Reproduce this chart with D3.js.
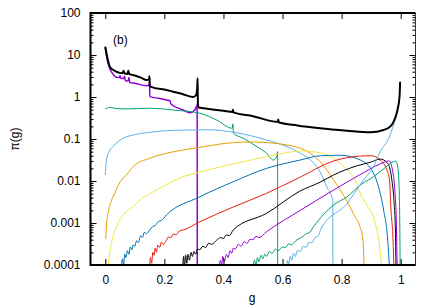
<!DOCTYPE html>
<html>
<head>
<meta charset="utf-8">
<script src="https://cdn.jsdelivr.net/npm/d3@7"></script>
<style>
  body { margin: 0; background: #fff; }
  svg { display: block; font-family: "Liberation Sans", Arial, sans-serif; }
</style>
</head>
<body>
<div id="chart"></div>
<script>
// π(g) eğrileri, log y ekseni
const X_TICKS = [0, 0.2, 0.4, 0.6, 0.8, 1];
const X_LABELS = ["0", "0.2", "0.4", "0.6", "0.8", "1"];
const Y_TICKS = [1e-4, 1e-3, 1e-2, 1e-1, 1, 10, 100];
const Y_LABELS = ["0.0001", "0.001", "0.01", "0.1", "1", "10", "100"];

// [g, π] pairs
const purple1 = [[0,14.7],[0.008,7],[0.015,4.8],[0.025,3.6],[0.038,2.94],[0.048,2.9],[0.05,3.2],[0.053,2.8],[0.062,2.75],[0.065,3.1],[0.068,2.5],[0.077,2.4],[0.08,2.9],[0.083,2.2],[0.1,2.12],[0.14,1.86],[0.148,1.9],[0.1495,2.3],[0.151,1.02],[0.18,0.93],[0.207,0.85],[0.219,0.82],[0.222,0.68],[0.264,0.49],[0.286,0.42],[0.303,0.49],[0.309,0.6],[0.311,0.65],[0.3115,0.00005]];
const green1 = [[0,0.52],[0.008,0.55],[0.015,0.57],[0.03,0.54],[0.07,0.52],[0.15,0.54],[0.23,0.49],[0.32,0.41],[0.377,0.283],[0.43,0.18],[0.432,0.23],[0.434,0.137],[0.467,0.104],[0.513,0.066],[0.546,0.046],[0.569,0.0316],[0.58,0.038],[0.583,0.05],[0.5835,0.00005]];
const lightblue1 = [[0,0.0139],[0.004,0.0316],[0.012,0.048],[0.026,0.066],[0.06,0.104],[0.094,0.124],[0.15,0.144],[0.207,0.158],[0.26,0.163],[0.35,0.166],[0.433,0.145],[0.546,0.095],[0.614,0.066],[0.66,0.046],[0.703,0.028],[0.727,0.0164],[0.75,0.0072],[0.77,0.0035],[0.7705,0.00005]];
const orange1 = [[0.0015,0.00041],[0.004,0.0009],[0.0095,0.0017],[0.02,0.0033],[0.032,0.0051],[0.05,0.0095],[0.072,0.014],[0.094,0.0219],[0.15,0.0347],[0.207,0.0457],[0.264,0.0548],[0.32,0.0634],[0.43,0.0817],[0.5,0.085],[0.55,0.0817],[0.66,0.06],[0.729,0.028],[0.773,0.0106],[0.818,0.0033],[0.842,0.00155],[0.86,0.00089],[0.872,0.0004],[0.877,0.00005]];
const yellow1 = [[0.009,0.00008],[0.012,0.00013],[0.021,0.00033],[0.04,0.00086],[0.07,0.00183],[0.094,0.0024],[0.117,0.0035],[0.15,0.0049],[0.18,0.0065],[0.264,0.0127],[0.32,0.0164],[0.433,0.0254],[0.546,0.038],[0.62,0.048],[0.66,0.052],[0.729,0.047],[0.773,0.0347],[0.818,0.0183],[0.851,0.0088],[0.863,0.0051],[0.885,0.0027],[0.914,0.00098],[0.93,0.00023],[0.936,0.00008]];
const blue1 = [[0.054,0.00008],[0.058,0.00014],[0.062,0.0001],[0.066,0.00018],[0.07,0.00015],[0.075,0.00022],[0.08,0.00018],[0.085,0.00027],[0.09,0.00023],[0.094,0.0003],[0.1,0.00028],[0.106,0.00038],[0.112,0.00034],[0.12,0.0005],[0.126,0.00045],[0.132,0.0006],[0.14,0.00056],[0.15,0.00068],[0.16,0.00082],[0.17,0.00088],[0.18,0.0011],[0.19,0.00115],[0.207,0.00155],[0.32,0.0042],[0.433,0.0096],[0.546,0.02],[0.66,0.0316],[0.729,0.04],[0.795,0.041],[0.863,0.0316],[0.908,0.0152],[0.925,0.0072],[0.942,0.00204],[0.956,0.00039],[0.962,0.00008]];
const red1 = [[0.15,0.00008],[0.153,0.00015],[0.157,0.00011],[0.161,0.0002],[0.165,0.00017],[0.168,0.00025],[0.173,0.0002],[0.178,0.0003],[0.184,0.00026],[0.19,0.00035],[0.196,0.00031],[0.207,0.00039],[0.215,0.00047],[0.222,0.00044],[0.23,0.00055],[0.24,0.00052],[0.25,0.00064],[0.264,0.00068],[0.32,0.00107],[0.433,0.0024],[0.546,0.0051],[0.66,0.0124],[0.773,0.03],[0.86,0.039],[0.9,0.04],[0.93,0.0316],[0.953,0.0183],[0.962,0.0107],[0.967,0.002],[0.974,0.00039],[0.977,0.00008]];
const black1 = [[0.262,0.00008],[0.265,0.00016],[0.268,0.00009],[0.272,0.00017],[0.276,0.00011],[0.28,0.00018],[0.285,0.00013],[0.29,0.0002],[0.295,0.00016],[0.3,0.00021],[0.306,0.00018],[0.312,0.00024],[0.32,0.00023],[0.33,0.00028],[0.34,0.00026],[0.35,0.00033],[0.36,0.00031],[0.377,0.00039],[0.39,0.00045],[0.4,0.00043],[0.41,0.00052],[0.42,0.0005],[0.433,0.00068],[0.546,0.0017],[0.66,0.0058],[0.729,0.0095],[0.773,0.0139],[0.85,0.0228],[0.9,0.0283],[0.93,0.0334],[0.955,0.0268],[0.97,0.0106],[0.977,0.0035],[0.982,0.00068],[0.984,0.00008]];
const purple2 = [[0.385,0.00008],[0.39,0.00013],[0.394,0.0001],[0.398,0.00016],[0.403,0.00012],[0.41,0.00018],[0.416,0.00015],[0.422,0.00022],[0.428,0.00019],[0.433,0.00025],[0.44,0.00024],[0.45,0.00031],[0.46,0.00028],[0.47,0.00036],[0.48,0.00033],[0.49,0.00041],[0.5,0.0004],[0.51,0.00048],[0.52,0.00045],[0.546,0.00062],[0.66,0.002],[0.773,0.0061],[0.86,0.0139],[0.93,0.0254],[0.96,0.03],[0.975,0.0139],[0.981,0.0047],[0.985,0.00118],[0.988,0.00008]];
const green2 = [[0.5,0.00008],[0.505,0.00013],[0.51,0.0001],[0.515,0.00015],[0.52,0.00012],[0.527,0.00017],[0.533,0.00014],[0.54,0.00018],[0.546,0.00016],[0.555,0.00021],[0.565,0.00019],[0.575,0.00024],[0.585,0.00022],[0.6,0.00027],[0.61,0.00026],[0.62,0.00032],[0.63,0.0003],[0.645,0.00038],[0.66,0.00044],[0.67,0.00048],[0.68,0.00056],[0.69,0.00058],[0.705,0.00082],[0.773,0.0027],[0.818,0.0042],[0.863,0.008],[0.908,0.0127],[0.95,0.0215],[0.973,0.0283],[0.983,0.0295],[0.989,0.024],[0.994,0.0088],[0.997,0.0007],[0.998,0.00008]];
const lightblue2 = [[0.613,0.00008],[0.617,0.00013],[0.621,0.0001],[0.626,0.00016],[0.631,0.00013],[0.637,0.00019],[0.643,0.00016],[0.65,0.00022],[0.66,0.00021],[0.67,0.00028],[0.68,0.00026],[0.69,0.00035],[0.7,0.00034],[0.71,0.00045],[0.72,0.00048],[0.73,0.00072],[0.818,0.0029],[0.874,0.0106],[0.908,0.0219],[0.93,0.049],[0.96,0.106],[0.978,0.24]];
const total = [[0,15.8],[0.008,8],[0.0153,5.26],[0.025,4.5],[0.038,4.0],[0.05,3.75],[0.058,3.7],[0.062,4.2],[0.065,3.65],[0.075,3.55],[0.078,4.2],[0.081,3.5],[0.094,3.34],[0.12,2.9],[0.14,2.54],[0.148,2.6],[0.1495,3.1],[0.151,1.8],[0.16,1.7],[0.207,1.47],[0.263,1.16],[0.298,1.0],[0.307,1.1],[0.311,1.6],[0.3125,2.8],[0.3135,0.7],[0.317,0.56],[0.35,0.52],[0.4,0.47],[0.431,0.44],[0.432,0.5],[0.434,0.43],[0.5,0.35],[0.584,0.255],[0.5855,0.29],[0.587,0.25],[0.65,0.21],[0.727,0.18],[0.818,0.158],[0.897,0.145],[0.942,0.164],[0.965,0.2],[0.976,0.26],[0.989,0.49],[0.996,1.02],[0.998,2.3]];

const SERIES = [purple1, green1, lightblue1, orange1, yellow1, blue1, red1, black1, purple2, green2, lightblue2, total];
const COLORS = ["#9400d3", "#009e73", "#56b4e9", "#e69f00", "#f0e442", "#0072b2", "#e51e10", "#000000", "#9400d3", "#009e73", "#56b4e9", "#000000"];
const WIDTHS = [1.5, 1, 1, 1, 1, 1, 1, 1, 1, 1, 1, 2];

const W = 440, H = 308;
const mLeft = 90.5, mRight = 415.5, mTop = 13, mBottom = 265;

const svg = d3.select("#chart").append("svg")
    .attr("width", W)
    .attr("height", H);

const x = d3.scaleLinear().domain([-0.05, 1.05]).range([mLeft, mRight]);
const y = d3.scaleLog().domain([1e-4, 100]).range([mBottom, mTop]);

svg.append("clipPath").attr("id", "clip")
  .append("rect").attr("x", mLeft).attr("y", mTop).attr("width", mRight - mLeft).attr("height", mBottom - mTop);

const line = d3.line()
    .x(d => x(d[0]))
    .y(d => y(d[1]))
    .curve(d3.curveMonotoneX);

const plot = svg.append("g").attr("clip-path", "url(#clip)");
plot.selectAll("path.curve")
    .data(SERIES)
    .enter()
    .append("path")
    .attr("class", "curve")
    .attr("d", line)
    .attr("fill", "none")
    .attr("stroke", (d, i) => COLORS[i])
    .attr("stroke-width", (d, i) => WIDTHS[i])
    .attr("stroke-linejoin", "round");

// minor ticks for the log axis
const minor = [];
for (let e = -4; e < 2; e++) {
    for (let k = 2; k <= 9; k++) minor.push(k * Math.pow(10, e));
}

function styleAxis(g) {
    g.select(".domain").remove();
    g.selectAll("line").attr("stroke", "#000");
    g.selectAll("text").attr("fill", "#000").style("font-size", "12px");
}

svg.append("g").attr("transform", `translate(${mLeft},0)`)
    .call(d3.axisLeft(y).tickValues(Y_TICKS).tickSize(-6).tickPadding(10).tickFormat((d, i) => Y_LABELS[i]))
    .call(styleAxis);
svg.append("g").attr("transform", `translate(${mLeft},0)`)
    .call(d3.axisLeft(y).tickValues(minor).tickSize(-3).tickFormat(""))
    .call(styleAxis);
svg.append("g").attr("transform", `translate(${mRight},0)`)
    .call(d3.axisRight(y).tickValues(Y_TICKS).tickSize(-6).tickFormat(""))
    .call(styleAxis);
svg.append("g").attr("transform", `translate(${mRight},0)`)
    .call(d3.axisRight(y).tickValues(minor).tickSize(-3).tickFormat(""))
    .call(styleAxis);
svg.append("g").attr("transform", `translate(0,${mBottom})`)
    .call(d3.axisBottom(x).tickValues(X_TICKS).tickSize(-6).tickPadding(10).tickFormat((d, i) => X_LABELS[i]))
    .call(styleAxis);
svg.append("g").attr("transform", `translate(0,${mTop})`)
    .call(d3.axisTop(x).tickValues(X_TICKS).tickSize(-6).tickFormat(""))
    .call(styleAxis);

// çerçeve
svg.append("path")
    .attr("d", `M${mRight},${mTop}H${mLeft}V${mBottom}H${mRight}`)
    .attr("fill", "none").attr("stroke", "#000").attr("stroke-width", 2);
svg.append("line")
    .attr("x1", mRight).attr("x2", mRight).attr("y1", mTop).attr("y2", mBottom)
    .attr("stroke", "#333").attr("stroke-width", 1);

svg.append("text")
    .attr("x", (mLeft + mRight) / 2 - 1).attr("y", 302)
    .attr("text-anchor", "middle")
    .style("font-size", "12px")
    .text("g");
svg.append("text")
    .attr("transform", "translate(19,139) rotate(-90)")
    .attr("text-anchor", "middle")
    .style("font-size", "12px")
    .text("π(g)");
svg.append("text")
    .attr("x", 113).attr("y", 44)
    .style("font-size", "12px")
    .text("(b)");
</script>
</body>
</html>
